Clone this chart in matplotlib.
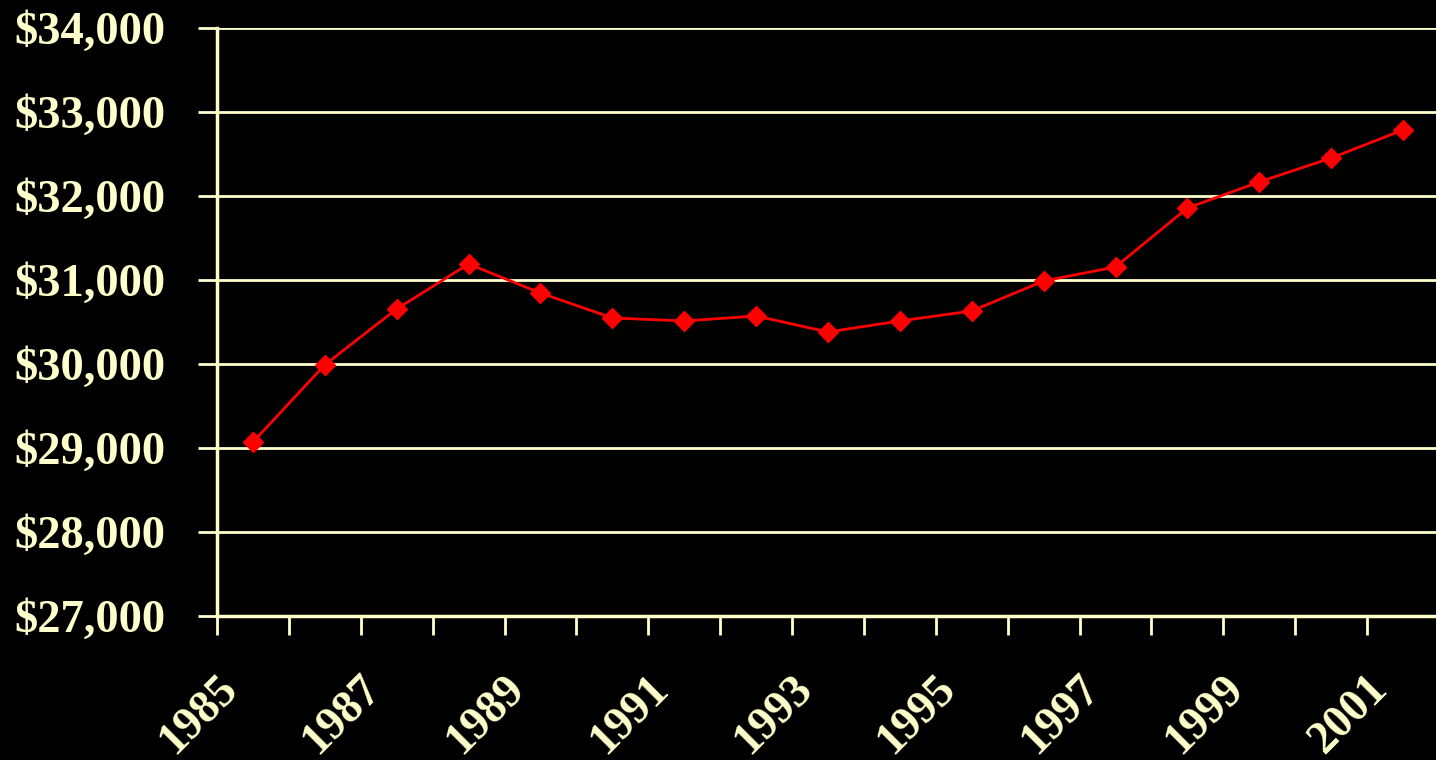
import matplotlib.pyplot as plt
import matplotlib.transforms as mtransforms
from matplotlib.ticker import FuncFormatter

years = list(range(1985, 2002))
income = [29070, 29990, 30655, 31190, 30845, 30548, 30512, 30571, 30381,
          30512, 30631, 30988, 31155, 31857, 32167, 32452, 32786]

cream = '#FFFFCC'
plt.rcParams['font.family'] = ['Liberation Serif', 'DejaVu Serif']
plt.rcParams['font.weight'] = 'bold'

fig = plt.figure(figsize=(14.36, 7.6), dpi=100, facecolor='black')
ax = fig.add_axes([0.1511, 0.1895, 0.851, 0.7737], facecolor='black')

x = list(range(len(years)))
ax.plot(x, income, color='#FF0000', lw=2, marker='D', markersize=10, zorder=3,
        clip_on=False)

ax.set_xlim(-0.5, len(years) - 0.5)
ax.set_ylim(27000, 34000)
ax.set_yticks(range(27000, 34001, 1000))
ax.yaxis.set_major_formatter(FuncFormatter(lambda v, p: '${:,.0f}'.format(v)))
ax.grid(axis='y', color=cream, lw=2)
ax.set_axisbelow(True)

# category boundaries as tick marks, labels on every other year
ax.set_xticks([i - 0.5 for i in range(len(years) + 1)])
ax.set_xticklabels([])
ax.set_xticks(x[::2], minor=True)
ax.set_xticklabels([str(y) for y in years[::2]], minor=True, rotation=45,
                   ha='right', va='center', rotation_mode='anchor')
ax.tick_params(axis='x', which='minor', length=0, pad=45, labelsize=33,
               labelcolor=cream)
ax.tick_params(axis='x', which='major', length=14, width=2, color=cream)
ax.tick_params(axis='y', length=14, width=2, color=cream, labelsize=33.5,
               labelcolor=cream, pad=23)

shift = mtransforms.ScaledTranslation(-0.22, -0.04, fig.dpi_scale_trans)
for lab in ax.get_xticklabels(minor=True):
    lab.set_transform(lab.get_transform() + shift)

for s in ['top', 'right']:
    ax.spines[s].set_visible(False)
for s in ['left', 'bottom']:
    ax.spines[s].set_color(cream)
    ax.spines[s].set_linewidth(2.5)

fig.savefig('out.png', dpi=100, facecolor='black')
